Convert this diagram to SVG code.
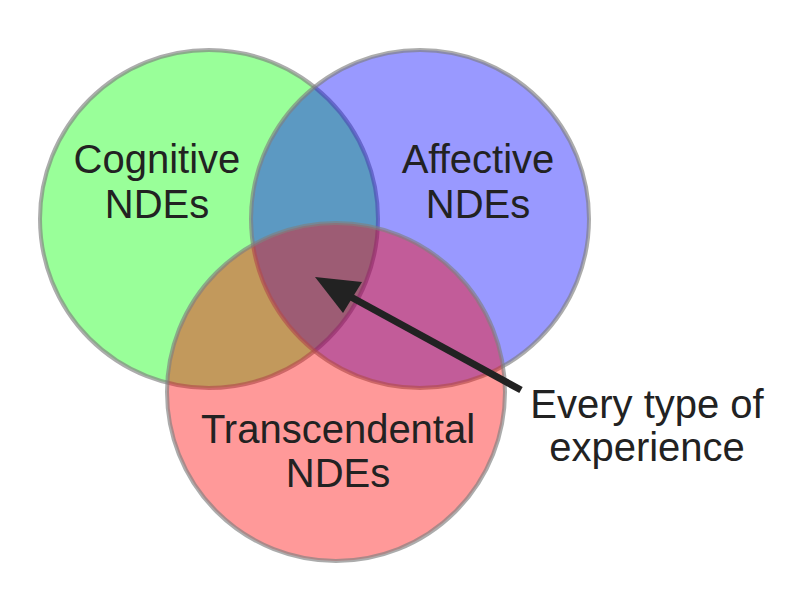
<svg xmlns="http://www.w3.org/2000/svg" width="800" height="613" viewBox="0 0 800 613">
<style>
.c{stroke:#808080;stroke-opacity:0.65;stroke-width:4;fill-opacity:0.4}
.t{font-family:"Liberation Sans",Arial,sans-serif;font-size:40px;fill:#222;text-anchor:middle}
</style>
<rect width="800" height="613" fill="#fff"/>
<g id="cognitive">
<circle class="c" cx="209" cy="219" r="169" fill="#00ff00"/>
</g>
<g id="affective">
<circle class="c" cx="420" cy="219" r="169" fill="#0000ff"/>
</g>
<g id="transcendental">
<circle class="c" cx="336" cy="392" r="169" fill="#ff0000"/>
</g>
<g id="labels">
<text class="t" x="157" y="173">Cognitive</text>
<text class="t" x="157" y="218">NDEs</text>
<text class="t" x="478" y="173">Affective</text>
<text class="t" x="478" y="218">NDEs</text>
<text class="t" x="338" y="443">Transcendental</text>
<text class="t" x="338" y="487">NDEs</text>
</g>
<g id="connectors">
<line x1="521" y1="390" x2="340" y2="291" stroke="#222" stroke-width="7"/>
<polygon points="315,277 362,282 343,313" fill="#222"/>
</g>
<g id="note">
<text class="t" x="647" y="418">Every type of</text>
<text class="t" x="647" y="461">experience</text>
</g>
</svg>
